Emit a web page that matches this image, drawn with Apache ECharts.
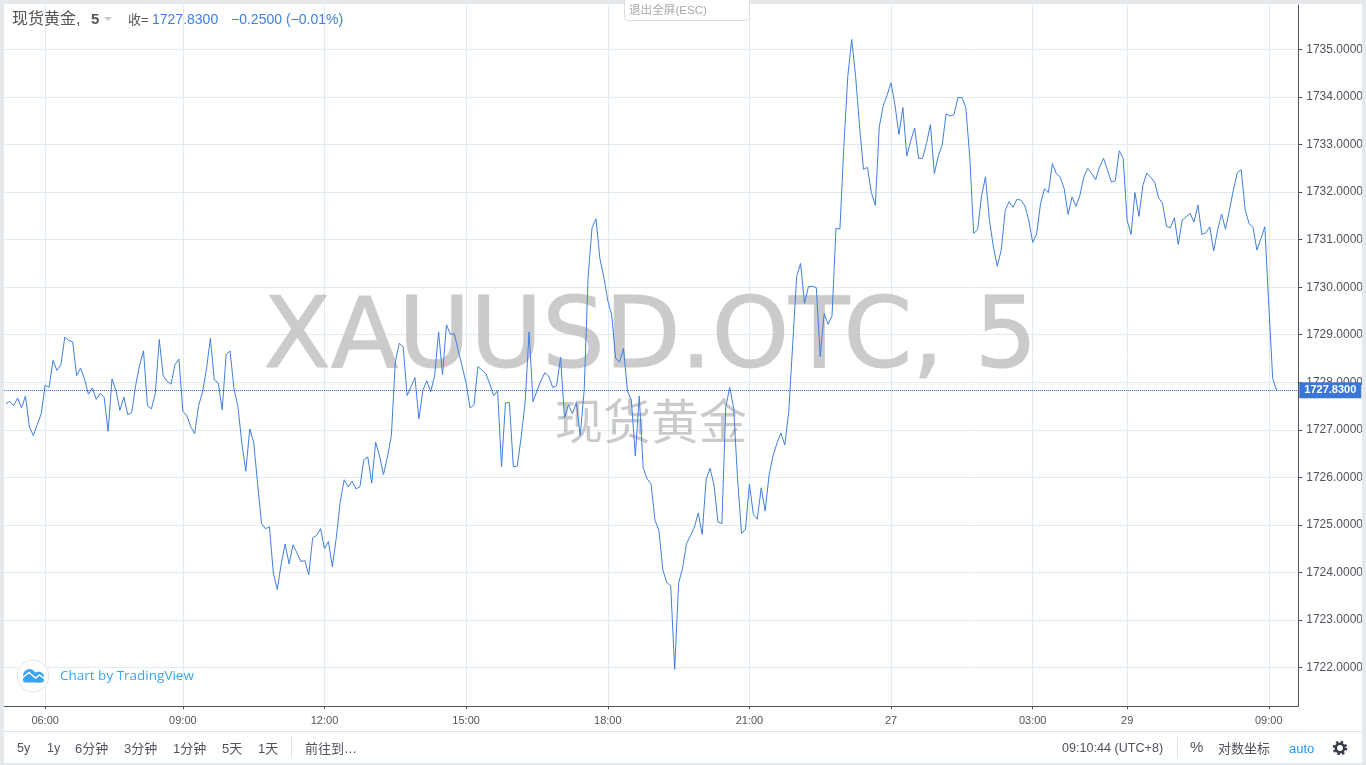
<!DOCTYPE html>
<html><head><meta charset="utf-8">
<style>html,body{margin:0;padding:0;background:#fff}#c{width:1366px;height:765px}</style>
<script src="https://cdn.jsdelivr.net/npm/echarts@6/dist/echarts.min.js"></script>
</head><body><div id="c"></div>
<script>
const closeA = [1727.55,1727.60,1727.51,1727.67,1727.46,1727.71,1727.06,1726.88,1727.11,1727.34,
1727.94,1727.89,1728.46,1728.25,1728.37,1728.95,1728.88,1728.85,1728.14,1728.30,
1728.07,1727.75,1727.88,1727.64,1727.77,1727.68,1726.97,1728.07,1727.83,1727.41,
1727.69,1727.32,1727.36,1727.93,1728.36,1728.66,1727.51,1727.44,1727.76,1728.90,
1728.14,1728.02,1727.96,1728.37,1728.49,1727.39,1727.30,1727.07,1726.92,1727.51,
1727.79,1728.28,1728.92,1728.05,1727.99,1727.42,1728.58,1728.66,1727.86,1727.49,
1726.71,1726.13,1727.02,1726.74,1725.87,1725.03,1724.92,1724.96,1723.99,1723.64,
1724.18,1724.60,1724.18,1724.58,1724.41,1724.23,1724.25,1723.95,1724.73,1724.78,
1724.92,1724.50,1724.65];
const closeB = [1724.12,1724.73,1725.49,1725.95,1725.80,1725.92,1725.76,1725.80,
1726.37,1726.43,1725.88,1726.74,1726.45,1726.06,1726.43,1726.88,1728.43,1728.82,
1728.75,1727.72,1727.91,1728.10,1727.23,1727.83,1728.03,1727.80,1728.14,1729.06,
1728.16,1729.21,1729.01,1729.02,1728.67,1728.33,1727.98,1727.46,1727.53,1728.33,
1728.26,1728.18,1727.97,1727.72,1727.82,1726.22,1727.57,1727.57,1726.22,1726.24,
1726.85,1727.58,1729.06,1727.59,1727.82,1728.03,1728.20,1728.13,1727.89,1727.93,
1728.53,1727.25,1727.53,1727.34,1727.57,1726.88,1727.83,1730.21,1731.25,1731.44,
1730.60,1730.21,1729.72,1729.41,1728.50,1728.43,1728.71,1727.82,1727.62,1726.45,
1727.71];
const closeC = [1726.20,1725.97,1725.86,1725.10,1724.88,1724.05,1723.79,1723.72,1721.96,
1723.77,1724.09,1724.60,1724.77,1724.95,1725.25,1724.80,1725.96,1726.19,1725.84,
1725.06,1725.03,1727.49,1727.89,1727.45,1725.95,1724.82,1724.91,1725.86,1725.22,
1725.12,1725.78,1725.29,1726.05,1726.45,1726.72,1726.93,1726.68,1727.38,1728.80];
const closeD = [1730.22,1730.50,1729.66,1730.01,1730.02,1729.99,1728.54,1729.45,1729.22,
1729.40,1731.24,1731.22,1732.95,1734.43,1735.21,1734.43,1733.37,1732.48,1732.52,
1731.99,1731.72,1733.37,1733.81,1734.04,1734.30,1733.83,1733.21,1733.78,1732.76,
1733.08,1733.35,1732.71,1732.71,1733.02,1733.42,1732.39,1732.76,1732.99,1733.65,
1733.60,1733.63,1733.99,1733.99,1733.78,1732.74,1731.13,1731.21,1731.92,1732.32,
1731.41,1730.85,1730.44,1730.78,1731.61,1731.80,1731.68,1731.85,1731.83,1731.71,
1731.41,1730.94,1731.12];
const closeE = [1731.76,1732.07,1731.99,1732.60,1732.39,1732.31,1732.07,1731.53,1731.90,
1731.70,1731.93,1732.32,1732.50,1732.39,1732.26,1732.53,1732.71,1732.47,1732.21,
1732.24,1732.87,1732.71,1731.41,1731.11,1731.99,1731.49,1732.14,1732.40,1732.31,
1732.21,1731.88,1731.76,1731.28,1731.25,1731.46,1730.90,1731.41,1731.48,1731.55,
1731.37,1731.73,1731.11,1731.14,1731.27,1730.76,1731.20,1731.54,1731.22,1731.62,
1732.04,1732.41,1732.47,1731.63,1731.34,1731.25,1730.78,1731.02,1731.27,1729.62,
1728.08,1727.83];
const closes = closeA.concat(closeB, closeC, closeD, closeE);

const timeTickBars = [10,45,81,117,153,189,225,261,285,321];
const timeTickLabels = ['06:00','09:00','12:00','15:00','18:00','21:00','27','03:00','29','09:00'];
const priceTicks = [1722,1723,1724,1725,1726,1727,1728,1729,1730,1731,1732,1733,1734,1735];
const lastClose = 1727.83;
const barSlots = 329;

const categories = [];
for (let i = 0; i < barSlots; i++) {
  const k = timeTickBars.indexOf(i);
  categories.push(k >= 0 ? timeTickLabels[k] : '');
}
const isTick = (i) => timeTickBars.indexOf(i) >= 0;

const UI = '"Liberation Sans", Arial, "Noto Sans CJK SC", sans-serif';
const GRID = '#e1ecf2', AXIS = '#50535e', TXT = '#50535e', BLUE = '#3f7fe0', LINK = '#3ba4f0', EDGE = '#e6e9ec';

const t = (x, y, text, size, fill, extra, z) => ({
  type: 'text', z: z || 20,
  style: Object.assign({ x, y, text, fill, font: size + 'px ' + UI, textVerticalAlign: 'middle' }, extra || {})
});
const r = (x, y, w, h, fill, z, stroke) => ({
  type: 'rect', z: z || 20, shape: { x, y, width: w, height: h, r: 0 },
  style: { fill, stroke: stroke || null, lineWidth: stroke ? 1 : 0 }
});

const graphics = [
  // watermark
  { type: 'text', z: 1, style: { x: 650.5, y: 341, text: 'XAUUSD.OTC, 5', textAlign: 'center', textVerticalAlign: 'middle', fill: '#cbcbcb', stroke: '#cbcbcb', lineWidth: 1.2, font: '98.4px "DejaVu Sans", sans-serif' } },
  { type: 'text', z: 1, style: { x: 651, y: 421, text: '现货黄金', textAlign: 'center', textVerticalAlign: 'middle', fill: 'rgba(110,110,110,0.37)', font: '48px "Noto Sans CJK SC", sans-serif' } },
  // outer frame
  r(0, 0, 1366, 4, EDGE, 30), r(0, 0, 4, 765, EDGE, 30), r(1362, 0, 4, 765, EDGE, 30), r(0, 763, 1366, 2, EDGE, 30),
  r(4, 731, 1358, 1, '#e0e3eb', 20),
  // exit fullscreen box
  { type: 'rect', z: 31, shape: { x: 624.5, y: -4, width: 125, height: 24.5, r: 3 }, style: { fill: '#fff', stroke: '#dcdfe3', lineWidth: 1 } },
  t(629, 11, '退出全屏(ESC)', 11.6, '#a9a9a9', {}, 32),
  // header legend
  t(12, 20, '现货黄金', 16, '#555'),
  t(76, 20, ',', 16, '#555'),
  t(91, 20, '5', 15, '#555', { font: 'bold 15px ' + UI }),
  { type: 'polygon', z: 20, shape: { points: [[104, 17], [112, 17], [108, 21]] }, style: { fill: '#c8ccd2' } },
  t(128, 20, '收=', 13, '#555'),
  t(152, 20, '1727.8300', 14, BLUE),
  t(231, 20, '−0.2500 (−0.01%)', 14, BLUE),
  // logo
  { type: 'circle', z: 20, shape: { cx: 33, cy: 676, r: 16 }, style: { fill: '#fff', stroke: '#e0e3eb', lineWidth: 1 } },
  { type: 'circle', z: 21, shape: { cx: 29.5, cy: 675.5, r: 6.5 }, style: { fill: LINK } },
  { type: 'circle', z: 21, shape: { cx: 38.5, cy: 677, r: 5.5 }, style: { fill: LINK } },
  { type: 'rect', z: 21, shape: { x: 23, y: 677, width: 21, height: 5.5, r: 2.5 }, style: { fill: LINK } },
  { type: 'polyline', z: 22, shape: { points: [[22, 678], [29, 672.5], [35.5, 678], [39.5, 675], [46, 680]] }, style: { stroke: '#fff', lineWidth: 1.5, fill: null } },
  t(60, 676.5, 'Chart by TradingView', 13.5, LINK, { font: '13.5px "Open Sans", sans-serif' }),
  // bottom bar
  t(17, 749, '5y', 12.5, TXT), t(47, 749, '1y', 12.5, TXT), t(75, 749, '6分钟', 13, TXT), t(124, 749, '3分钟', 13, TXT),
  t(173, 749, '1分钟', 13, TXT), t(222, 749, '5天', 13, TXT), t(258, 749, '1天', 13, TXT),
  r(291, 737, 1, 21, '#e0e3eb'),
  t(305, 749, '前往到…', 13, TXT),
  t(1062, 749, '09:10:44 (UTC+8)', 12.6, TXT),
  r(1177, 737, 1, 21, '#e0e3eb'),
  t(1190, 748, '%', 15, TXT),
  t(1218, 749, '对数坐标', 13, TXT),
  t(1289, 749, 'auto', 13, '#2196f3'),
  // settings gear
  { type: 'circle', z: 20, shape: { cx: 1340, cy: 748, r: 6 }, style: { fill: null, stroke: '#3a3d45', lineWidth: 2.6, lineDash: [2.4, 2.31] } },
  { type: 'circle', z: 21, shape: { cx: 1340, cy: 748, r: 4.2 }, style: { fill: '#fff', stroke: '#3a3d45', lineWidth: 2.6 } }
];

const chart = echarts.init(document.getElementById('c'), null, { renderer: 'canvas' });
chart.setOption({
  animation: false,
  backgroundColor: '#fff',
  grid: { left: 3.83, top: 5.25, width: 1295.67, height: 701, containLabel: false },
  xAxis: {
    type: 'category', data: categories, boundaryGap: true,
    axisLine: { show: true, lineStyle: { color: AXIS, width: 1 } },
    axisTick: { show: true, alignWithLabel: true, length: 3, interval: isTick, lineStyle: { color: AXIS } },
    splitLine: { show: true, alignWithLabel: true, interval: isTick, lineStyle: { color: GRID, width: 1 } },
    axisLabel: { interval: isTick, hideOverlap: false, color: TXT, fontSize: 11, fontFamily: UI, margin: 9 }
  },
  yAxis: {
    type: 'value', position: 'right', min: 1721.186, max: 1735.93, scale: true,
    axisLine: { show: true, onZero: false, lineStyle: { color: AXIS, width: 1 } },
    axisTick: { show: true, length: 4, lineStyle: { color: AXIS }, customValues: priceTicks },
    splitLine: { show: true, lineStyle: { color: GRID, width: 1 } },
    axisLabel: { color: TXT, fontSize: 12, fontFamily: UI, margin: 8, padding: [3, 0, 0, 0], customValues: priceTicks, formatter: (v) => v.toFixed(4) }
  },
  series: [{
    type: 'line', data: closes, symbol: 'none', smooth: false, z: 3,
    lineStyle: { color: BLUE, width: 1 },
    markLine: {
      silent: true, symbol: 'none', animation: false, z: 6,
      lineStyle: { color: '#1a5fd0', type: [1, 1], width: 1 },
      data: [{ yAxis: lastClose }],
      label: { show: true, position: 'end', distance: 1, formatter: () => lastClose.toFixed(4), color: '#fff', fontWeight: 'bold', fontSize: 11, fontFamily: UI, backgroundColor: '#3a75d8', padding: [3, 5, 2, 5] }
    }
  }],
  graphic: graphics
});
</script></body></html>
